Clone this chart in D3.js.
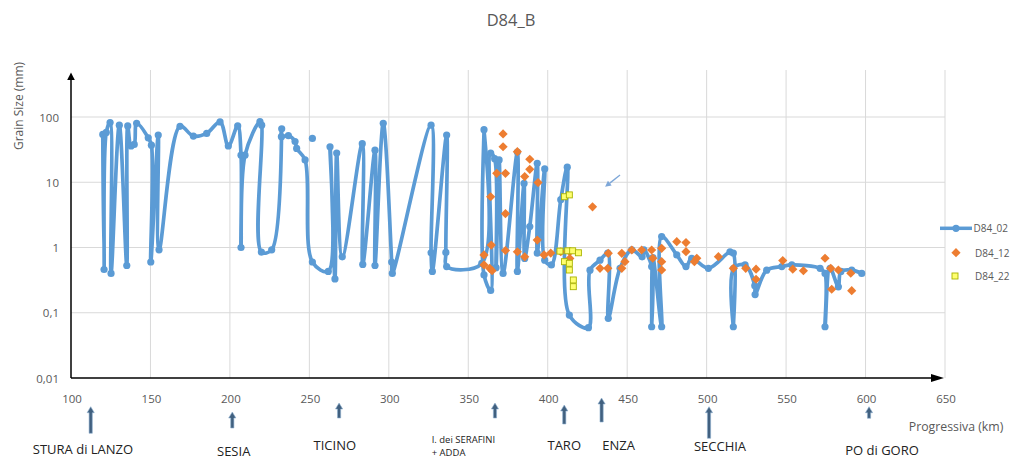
<!DOCTYPE html>
<html><head><meta charset="utf-8">
<script src="https://cdn.jsdelivr.net/npm/d3@7"></script>
<style>body{margin:0;background:#fff} svg{display:block;font-family:"Open Sans",sans-serif}</style>
</head><body><svg id="c" width="1017" height="459"></svg>
<script>
// ---------- DATA ----------
const chartTitle = "D84_B";
const yAxisTitle = "Grain Size (mm)";
const xAxisTitle = "Progressiva (km)";
const seriesNames = ["D84_02", "D84_12", "D84_22"];

// D84_02 (smoothed line with markers); null = break in line
const blueKm = [120.0,120.8,122.2,124.6,125.2,130.4,135.1,135.7,137.8,139.8,141.3,148.6,150.6,150.2,154.9,155.4,
  168.6,177.0,185.4,193.8,199.0,204.9,207.0,207.0,209.5,218.9,220.0,219.8,226.3,232.6,232.4,236.8,241.0,242.0,247.3,
  251.9,261.9,263.0,266.1,267.2,270.7,283.3,283.6,291.3,291.3,296.5,301.8,302.2,326.6,326.6,327.4,336.4,335.9,336.4,
  358.5,359.9,359.9,364.1,364.1,366.6,367.5,369.4,371.9,380.9,380.9,385.1,385.5,388.7,393.4,393.4,398.1,398.1,402.3,
  408.2,412.3,413.6,425.6,426.6,432.9,437.8,438.1,445.5,452.9,459.4,460.5,465.4,465.4,466.2,471.7,471.7,481.2,487.0,
  490.6,501.1,514.7,516.8,516.8,517.0,524.2,530.3,530.5,537.8,547.3,553.6,571.4,574.5,574.5,577.7,582.9,584.5,591.3,
  597.6,null,251.9];
const blueMm = [54,0.46,58,82,0.40,75,0.53,73,36,38,80,48,37,0.6,53,0.92,
  72,51,56,84,36,73,26,1.0,26,85,75,0.85,0.92,66,50,52,42,33,22,
  0.6,0.43,35,0.33,28,0.72,39,0.55,31,0.53,80,0.6,0.40,75,0.83,0.43,53,0.84,0.51,
  0.57,64,0.38,0.22,28,23,0.49,22,0.40,29,0.43,9.6,0.68,2.1,19.5,0.82,16,0.64,0.54,
  5.4,17,0.092,0.059,0.45,0.64,0.82,0.082,0.48,0.92,0.72,0.92,0.51,0.061,0.7,0.061,1.47,0.77,0.51,
  0.68,0.48,0.86,0.82,0.061,0.48,0.54,0.26,0.19,0.45,0.51,0.54,0.48,0.40,0.061,0.48,0.25,0.43,0.45,
  0.40,null,47];

// D84_12 (diamond markers only)
const orangeKm = [371.9,371.9,380.9,388.7,388.7,385.5,393.9,367.9,373.4,364.1,373.4,364.5,359.9,359.9,363.5,365.0,
  373.4,380.9,385.5,393.4,397.7,401.9,408.2,413.9,413.9,428.2,432.9,437.8,438.1,446.6,446.6,448.6,452.9,459.1,465.4,
  466.1,471.7,471.7,471.7,481.2,487.0,487.0,493.8,492.3,507.4,516.8,524.6,531.1,531.1,547.9,554.2,560.9,574.5,578.1,
  578.7,582.9,590.7,591.3];
const orangeMm = [55,35,29.4,22.5,15.8,12.2,9.9,13.7,13.7,6.0,3.3,1.09,0.77,0.54,0.48,0.44,
  0.90,0.86,0.72,1.3,0.77,0.82,0.86,0.86,0.68,4.2,0.48,0.48,0.815,0.815,0.48,0.606,0.916,0.916,0.916,
  0.684,0.97,0.606,0.452,1.23,1.19,0.863,0.684,0.606,0.723,0.48,0.48,0.465,0.326,0.63,0.465,0.44,0.684,0.48,
  0.229,0.452,0.403,0.218];

// D84_22 (square markers only)
const yellowKm = [410.5,413.6,407.7,412.6,415.7,419.3,410.5,413.6,413.6,416.1,416.1];
const yellowMm = [6.0,6.4,0.88,0.89,0.89,0.83,0.606,0.573,0.452,0.318,0.251];

const xTicks = [100,150,200,250,300,350,400,450,500,550,600,650];
const yTicks = [0.01,0.1,1,10,100];
const yTickLabels = ["0,01","0,1","1","10","100"];

const riverNames = ["STURA di LANZO","SESIA","TICINO","I. dei SERAFINI|+ ADDA","TARO","ENZA","SECCHIA","PO di GORO"];
const riverKm = [112.4,201.5,268.7,366.8,410.4,433.9,501.5,602.2];

const pointerKm = [445.5, 436.1];
const pointerMm = [12.9, 8.5];

// ---------- LAYOUT ----------
const L = {left:71, right:945, bottom:378, top100:117, gridTop:70};
const riverLayout = [
  {top:406.7,bot:433.3,dx:-7.7,ly:449,fs:13},
  {top:412,bot:428,dx:1.4,ly:450.5,fs:13},
  {top:403,bot:418,dx:-4.3,ly:445,fs:13},
  {top:403,bot:418,sx:431.7,ly:439,ly2:452.5,fs:9.5},
  {top:405,bot:424,dx:0,ly:444.5,fs:13},
  {top:398,bot:422,dx:17,ly:444.5,fs:13},
  {top:406.7,bot:438.3,dx:11,ly:446,fs:13},
  {top:406.7,bot:418.3,dx:13,ly:450,fs:13}
];
const BLUE="#5b9bd5", ORANGE="#ed7d31", YFILL="#ffff70", YSTROKE="#a9b300", GRID="#d9d9d9", TXT="#595959";

const svg = d3.select("#c");
const x = d3.scaleLinear().domain([100,650]).range([L.left,L.right]);
const y = d3.scaleLog().domain([0.01,100]).range([L.bottom,L.top100]);

// grid
svg.append("g").selectAll("line").data(xTicks.filter(t=>t>100)).join("line")
  .attr("x1",d=>x(d)).attr("x2",d=>x(d)).attr("y1",L.gridTop).attr("y2",L.bottom)
  .attr("stroke",GRID).attr("stroke-width",1);
svg.append("g").selectAll("line").data(yTicks.filter(t=>t>0.01)).join("line")
  .attr("x1",L.left).attr("x2",L.right).attr("y1",d=>y(d)).attr("y2",d=>y(d))
  .attr("stroke",GRID).attr("stroke-width",1);

// tick labels
svg.append("g").selectAll("text").data(xTicks).join("text")
  .attr("x",d=>x(d)+1).attr("y",398).attr("text-anchor","middle").attr("dominant-baseline","central")
  .attr("font-size",11.5).attr("fill",TXT).text(d=>d);
svg.append("g").selectAll("text").data(yTicks).join("text")
  .attr("x",59).attr("y",d=>y(d)).attr("text-anchor","end").attr("dominant-baseline","central")
  .attr("font-size",11.5).attr("fill",TXT).text((d,i)=>yTickLabels[i]);

// axes with arrows
svg.append("line").attr("x1",L.left).attr("x2",L.left).attr("y1",L.bottom).attr("y2",78)
  .attr("stroke","#000").attr("stroke-width",1.5);
svg.append("path").attr("d",`M${L.left},72.5 L${L.left-3.8},80 L${L.left+3.8},80 Z`).attr("fill","#000");
svg.append("line").attr("x1",L.left).attr("x2",L.right-8).attr("y1",L.bottom).attr("y2",L.bottom)
  .attr("stroke","#000").attr("stroke-width",1.5);
svg.append("path").attr("d",`M${L.right-1},${L.bottom} L${L.right-14},${L.bottom-4} L${L.right-14},${L.bottom+4} Z`).attr("fill","#000");

// titles
svg.append("text").attr("x",511).attr("y",19).attr("text-anchor","middle").attr("dominant-baseline","central")
  .attr("font-size",16.5).attr("fill",TXT).text(chartTitle);
svg.append("text").attr("transform","translate(18,106) rotate(-90)").attr("text-anchor","middle")
  .attr("dominant-baseline","central").attr("font-size",12).attr("fill",TXT).text(yAxisTitle);
svg.append("text").attr("x",956).attr("y",426.7).attr("text-anchor","middle").attr("dominant-baseline","central")
  .attr("font-size",12.3).attr("fill",TXT).text(xAxisTitle);

// blue line
const bluePts = blueKm.map((k,i)=> k==null? null : [k, blueMm[i]]);
const line = d3.line().defined(d=>d!=null).x(d=>x(d[0])).y(d=>y(d[1])).curve(d3.curveCatmullRom.alpha(0.5));
svg.append("path").attr("d",line(bluePts)).attr("fill","none").attr("stroke",BLUE)
  .attr("stroke-width",3.7).attr("stroke-linejoin","round").attr("stroke-linecap","round");
svg.append("g").selectAll("circle").data(bluePts.filter(d=>d)).join("circle")
  .attr("cx",d=>x(d[0])).attr("cy",d=>y(d[1])).attr("r",3.6).attr("fill",BLUE);

// orange diamonds
const dia = (cx,cy,r)=>`M${cx},${cy-r} L${cx+r},${cy} L${cx},${cy+r} L${cx-r},${cy} Z`;
svg.append("g").selectAll("path").data(orangeKm.map((k,i)=>[k,orangeMm[i]])).join("path")
  .attr("d",d=>dia(x(d[0]),y(d[1]),4.6)).attr("fill",ORANGE);

// yellow squares
svg.append("g").selectAll("rect").data(yellowKm.map((k,i)=>[k,yellowMm[i]])).join("rect")
  .attr("x",d=>x(d[0])-3).attr("y",d=>y(d[1])-3).attr("width",6).attr("height",6)
  .attr("fill",YFILL).attr("stroke",YSTROKE).attr("stroke-width",0.9);

// pointer arrow
{
  const x1=x(pointerKm[0]), y1=y(pointerMm[0]), x2=x(pointerKm[1]), y2=y(pointerMm[1]);
  const ang=Math.atan2(y2-y1,x2-x1), hl=6, hw=3;
  const bx=x2-hl*Math.cos(ang), by=y2-hl*Math.sin(ang);
  svg.append("line").attr("x1",x1).attr("y1",y1).attr("x2",bx).attr("y2",by).attr("stroke","#7ea7d8").attr("stroke-width",1.3);
  svg.append("path").attr("d",`M${x2},${y2} L${bx-hw*Math.sin(ang)},${by+hw*Math.cos(ang)} L${bx+hw*Math.sin(ang)},${by-hw*Math.cos(ang)} Z`).attr("fill","#7ea7d8");
}

// legend
const lg = svg.append("g");
lg.append("line").attr("x1",940).attr("x2",972).attr("y1",228.3).attr("y2",228.3).attr("stroke",BLUE).attr("stroke-width",3.5);
lg.append("circle").attr("cx",956).attr("cy",228.3).attr("r",3.6).attr("fill",BLUE);
lg.append("path").attr("d",dia(956,252.7,4.6)).attr("fill",ORANGE);
lg.append("rect").attr("x",952).attr("y",273).attr("width",6).attr("height",6).attr("fill",YFILL).attr("stroke",YSTROKE).attr("stroke-width",0.9);
[228.3,252.7,276].forEach((yy,i)=>{
  lg.append("text").attr("x",i==0?973.5:975).attr("y",yy).attr("dominant-baseline","central")
    .attr("font-size",10).attr("fill",TXT).text(seriesNames[i]);
});

// river annotations
const rg = svg.append("g");
riverKm.forEach((k,i)=>{
  const ax=x(k), lay=riverLayout[i];
  const t=lay.top, b=lay.bot, sw=1.6, hw=3.6, hl=6;
  rg.append("path").attr("d",`M${ax-sw},${b} L${ax-sw},${t+hl} L${ax-hw},${t+hl} L${ax},${t} L${ax+hw},${t+hl} L${ax+sw},${t+hl} L${ax+sw},${b} Z`)
    .attr("fill","#41607f").attr("stroke","#8fb0d0").attr("stroke-width",0.6);
  const parts = riverNames[i].split("|");
  if (lay.sx!==undefined){
    rg.append("text").attr("x",lay.sx).attr("y",lay.ly).attr("dominant-baseline","central")
      .attr("font-size",lay.fs).attr("fill","#222").text(parts[0]);
    rg.append("text").attr("x",lay.sx).attr("y",lay.ly2).attr("dominant-baseline","central")
      .attr("font-size",lay.fs).attr("fill","#222").text(parts[1]);
  } else {
    rg.append("text").attr("x",ax+lay.dx).attr("y",lay.ly).attr("text-anchor","middle").attr("dominant-baseline","central")
      .attr("font-size",lay.fs).attr("fill","#222").text(parts[0]);
  }
});
</script></body></html>
